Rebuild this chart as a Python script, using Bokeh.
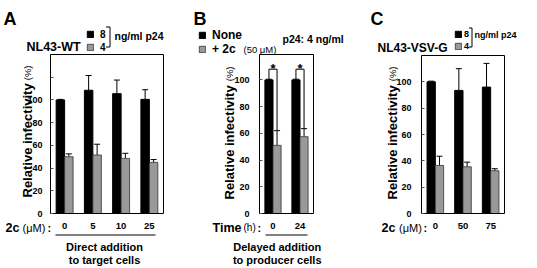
from bokeh.plotting import figure
from bokeh.models import (Range1d, FixedTicker, Label, Whisker, TeeHead, ColumnDataSource,
                          Legend, LegendItem, Arrow, LinearAxis)
from bokeh.layouts import row
from bokeh.embed import file_html
from bokeh.resources import INLINE
from bokeh.core.properties import value

FONT = "Liberation Sans"
H = 268

# ---------------- data ----------------
# Panel A: NL43-WT, direct addition to target cells
A_conc = ["0", "5", "10", "25"]
A_p24_8 = [100, 108.5, 105.5, 100.5]
A_p24_8_err = [0.5, 13, 12, 8.5]
A_p24_4 = [50, 51.5, 48.5, 45]
A_p24_4_err = [2.5, 9.5, 4.5, 2.5]
A_yticks = [0, 20, 40, 60, 80, 100, 120]
A_ytick_labels = ["0", "20", "40", "60", "80", "100", ""]

# Panel B: delayed addition to producer cells
B_time = ["0", "24"]
B_none = [100, 100]
B_none_err = [0.5, 0.5]
B_2c = [51, 57.5]
B_2c_err = [11, 6]
B_yticks = [0, 20, 40, 60, 80, 100]
B_ytick_labels = ["0", "20", "40", "60", "80", "100"]
B_sig_marks = ["*", "*"]
B_sig_bracket_y = 108
B_sig_star_y = 108.5

# Panel C: NL43-VSV-G
C_conc = ["0", "50", "75"]
C_p24_8 = [100, 93.5, 96]
C_p24_8_err = [0.5, 16.5, 18]
C_p24_4 = [36.5, 35.5, 32.5]
C_p24_4_err = [7, 3.5, 1.5]
C_yticks = [0, 20, 40, 60, 80, 100]
C_ytick_labels = ["0", "20", "40", "60", "80", "100"]

BLACK = "#000000"
GRAY = "#999999"
BAR_W = 0.3


def make_panel(W, fl, fr, ft, fb, ymax, cats, s1, e1, s2, e2, yticks, ylabels, ystandoff):
    n = len(cats)
    ppx = (fr - fl) / n
    ppy = (fb - ft) / ymax
    xr = Range1d(-0.5 - fl / ppx, n - 0.5 + (W - fr) / ppx)
    yr = Range1d(-(H - fb) / ppy, ymax + ft / ppy)
    p = figure(width=W, height=H, output_backend="svg", toolbar_location=None,
               x_range=xr, y_range=yr, x_axis_type=None, y_axis_type=None,
               min_border=0, min_border_left=0, min_border_right=0,
               min_border_top=0, min_border_bottom=0)
    p.xgrid.visible = False
    p.ygrid.visible = False
    p.outline_line_color = None
    p.background_fill_color = "white"
    p.border_fill_color = "white"

    x1 = [i - BAR_W / 2 for i in range(n)]
    x2 = [i + BAR_W / 2 for i in range(n)]
    r1 = p.vbar(x=x1, top=s1, width=BAR_W, fill_color=BLACK, line_color=BLACK, line_width=1)
    r2 = p.vbar(x=x2, top=s2, width=BAR_W, fill_color=GRAY, line_color="#333333", line_width=0.8)

    for xs, v, e in ((x1, s1, e1), (x2, s2, e2)):
        src = ColumnDataSource(dict(x=xs, lo=v, hi=[a + b for a, b in zip(v, e)]))
        p.add_layout(Whisker(source=src, base="x", lower="lo", upper="hi", dimension="height",
                             line_color="black", line_width=1, lower_head=None,
                             upper_head=TeeHead(size=6, line_color="black", line_width=1)))

    # plot box
    p.quad(left=[-0.5], right=[n - 0.5], bottom=[0], top=[ymax], fill_color=None,
           line_color="black", line_width=1)

    ya = LinearAxis(fixed_location=-0.5, ticker=FixedTicker(ticks=yticks))
    ya.major_label_overrides = {t: l for t, l in zip(yticks, ylabels)}
    ya.major_tick_in = 3
    ya.major_tick_out = 0
    ya.major_tick_line_color = "#555555"
    ya.minor_tick_line_color = None
    ya.axis_line_color = None
    ya.major_label_standoff = ystandoff
    ya.major_label_text_font = FONT
    ya.major_label_text_font_size = "9px"
    ya.major_label_text_font_style = "bold"
    ya.major_label_text_color = "black"
    p.add_layout(ya, "left")

    xa = LinearAxis(fixed_location=0, ticker=FixedTicker(ticks=list(range(n))))
    xa.major_label_overrides = {i: c for i, c in enumerate(cats)}
    xa.major_tick_line_color = None
    xa.minor_tick_line_color = None
    xa.major_tick_in = 0
    xa.major_tick_out = 0
    xa.axis_line_color = None
    xa.major_label_standoff = 9
    xa.major_label_text_font = FONT
    xa.major_label_text_font_size = "9.5px"
    xa.major_label_text_font_style = "bold"
    xa.major_label_text_color = "black"
    p.add_layout(xa, "below")
    return p, r1, r2


def txt(p, px, py, text, size, style="bold", align="left", baseline="middle", angle=0):
    p.add_layout(Label(x=px, y=H - py, x_units="screen", y_units="screen", text=text,
                       text_font=FONT, text_font_size=f"{size}px", text_font_style=style,
                       text_align=align, text_baseline=baseline, angle=angle,
                       angle_units="deg", text_color="black"))


def seg(p, xa, ya, xb, yb):
    p.add_layout(Arrow(x_start=xa, y_start=H - ya, x_end=xb, y_end=H - yb,
                       start_units="screen", end_units="screen", start=None, end=None,
                       line_color="black", line_width=1))


def legend(p, r1, r2, l1, l2, left, bottom, size, lh, spacing, standoff):
    leg = Legend(items=[LegendItem(label=l1, renderers=[r1]), LegendItem(label=l2, renderers=[r2])],
                 location=(left, H - bottom), orientation="vertical", padding=0, margin=0,
                 spacing=spacing, glyph_width=8, glyph_height=8, label_height=lh,
                 label_standoff=standoff, label_text_font=FONT, label_text_font_size=f"{size}px",
                 label_text_font_style="bold", label_text_baseline="alphabetic",
                 label_text_color="black",
                 border_line_color=None, background_fill_alpha=0)
    p.add_layout(leg)


# ---------------- Panel A ----------------
pA, a1, a2 = make_panel(180, 50, 163, 54, 213, 140, A_conc, A_p24_8, A_p24_8_err,
                        A_p24_4, A_p24_4_err, A_yticks, A_ytick_labels, 8)
legend(pA, a1, a2, "8", "4", 86, 53, 10, 12, 1, 6)
txt(pA, 3, 18.5, "A", 18, baseline="alphabetic")
txt(pA, 26, 46, "NL43-WT", 12.5, baseline="alphabetic")
seg(pA, 105.5, 26.5, 109.5, 26.5)
seg(pA, 109.5, 26.5, 109.5, 46.5)
seg(pA, 105.5, 46.5, 109.5, 46.5)
txt(pA, 114, 35, "ng/ml p24", 10.5, baseline="alphabetic")
txt(pA, 27, 197, "Relative infectivity", 13, baseline="alphabetic", angle=90)
txt(pA, 27, 65, "(%)", 9.5, style="normal", align="right", baseline="alphabetic", angle=90)
txt(pA, 5, 227, "2c", 12.5)
txt(pA, 22, 227, "(\u03bcM)", 11, style="normal")
txt(pA, 47, 227, ":", 11)
seg(pA, 55, 234.5, 155, 234.5)
txt(pA, 104, 246, "Direct addition", 11, align="center")
txt(pA, 104, 259.5, "to target cells", 11, align="center")

# ---------------- Panel B ----------------
pB, b1, b2 = make_panel(177, 79, 133, 54, 213, 119, B_time, B_none, B_none_err,
                        B_2c, B_2c_err, B_yticks, B_ytick_labels, 10)
legend(pB, b1, b2, "None", "+ 2c", 18, 56, 12, 13, 0, 6)
txt(pB, 13, 18.5, "B", 18, baseline="alphabetic")
txt(pB, 63, 48.5, "(50 \u03bcM)", 9.5, style="normal", baseline="alphabetic")
txt(pB, 102, 38, "p24: 4 ng/ml", 10.5)
txt(pB, 49, 199, "Relative infectivity", 13, baseline="alphabetic", angle=90)
txt(pB, 49, 66, "(%)", 9.5, style="normal", align="right", baseline="alphabetic", angle=90)
txt(pB, 32, 227, "Time", 12.5)
txt(pB, 63, 227, "(h)", 10, style="normal")
txt(pB, 77, 227, ":", 11)
seg(pB, 85, 234.5, 127, 234.5)
txt(pB, 96.7, 246, "Delayed addition", 11, align="center")
txt(pB, 96.7, 259.5, "to producer cells", 11, align="center")

bx, by = [], []
for i in range(len(B_time)):
    xb, xg = i - BAR_W / 2, i + BAR_W / 2
    bx.append([xb, xb, xg, xg])
    by.append([B_none[i], B_sig_bracket_y, B_sig_bracket_y, B_2c[i] + B_2c_err[i]])
pB.multi_line(xs=bx, ys=by, line_color="black", line_width=1)
pB.text(x=list(range(len(B_time))), y=[B_sig_star_y] * len(B_time), text=B_sig_marks,
        text_font=value(FONT), text_font_style="bold", text_font_size="13px",
        text_align="center", text_baseline="alphabetic", text_color="black")

# ---------------- Panel C ----------------
pC, c1, c2 = make_panel(180, 64, 147, 55, 213, 120, C_conc, C_p24_8, C_p24_8_err,
                        C_p24_4, C_p24_4_err, C_yticks, C_ytick_labels, 10)
legend(pC, c1, c2, "8", "4", 97, 51, 9, 11, 1, 2)
txt(pC, 13, 18.5, "C", 18, baseline="alphabetic")
txt(pC, 20, 47, "NL43-VSV-G", 12, baseline="alphabetic")
seg(pC, 111.5, 27.5, 114.5, 27.5)
seg(pC, 114.5, 27.5, 114.5, 46.5)
seg(pC, 111.5, 46.5, 114.5, 46.5)
txt(pC, 117, 34, "ng/ml p24", 9, baseline="alphabetic")
txt(pC, 35, 199, "Relative infectivity", 13, baseline="alphabetic", angle=90)
txt(pC, 35, 66, "(%)", 9.5, style="normal", align="right", baseline="alphabetic", angle=90)
txt(pC, 24, 227, "2c", 12.5)
txt(pC, 41.5, 227, "(\u03bcM)", 11, style="normal")
txt(pC, 66, 227, ":", 11)

layout = row(pA, pB, pC)
open("out.html", "w").write(file_html(layout, INLINE))
